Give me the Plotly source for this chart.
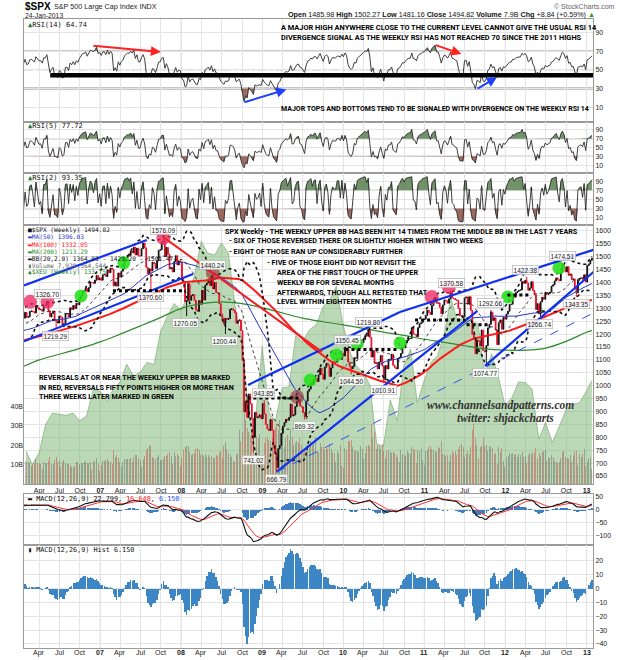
import numpy as np
import pandas as pd
import plotly.graph_objects as go

# ---------------- data (weekly closes, Fridays from 2004-01-02) ----------------
close_2004 = [1108,1122,1139,1141,1131, 1142,1146,1144,1145, 1156,1120,1110,1109, 1141,1139,1134,1141,1107,
              1099,1096,1094,1121, 1122,1137,1136,1134, 1126,1112,1102,1087,1102, 1064,1065,1099,1108,
              1114,1124,1129,1110, 1131,1122,1108,1095,1130, 1167,1185,1171,1182, 1191,1189,1194,1210,1212]
close_2005 = [1186,1184,1168,1171, 1203,1205,1201,1211, 1222,1200,1190,1181, 1172,1182,1142,1152,1156,
              1178,1154,1189,1198, 1197,1201,1216,1191, 1194,1212,1227,1234,1235, 1226,1231,1219,1206,
              1218,1241,1228,1215,1228, 1196,1186,1177,1199, 1220,1235,1248,1265, 1265,1259,1267,1256,1248]
close_2006 = [1285,1288,1262,1284, 1265,1267,1288,1290, 1287,1282,1307,1302,1295, 1296,1289,1311,1311,
              1325,1291,1267,1280, 1288,1253,1252,1245,1270, 1265,1236,1240,1279, 1280,1266,1302,1295,
              1311,1299,1320,1314,1336, 1349,1366,1368,1377, 1364,1380,1401,1400, 1397,1409,1427,1410,1418]
close_2007 = [1409,1430,1431,1423, 1449,1438,1456,1451, 1387,1402,1386,1437,1421, 1444,1453,1484,1495,
              1506,1505,1522,1515, 1537,1507,1533,1503,1503, 1531,1553,1534,1459, 1434,1453,1445,1479,1474,
              1454,1484,1525,1527, 1557,1561,1501,1536, 1510,1453,1458,1441,1481, 1504,1468,1484,1478]
close_2008 = [1411,1401,1325,1330, 1396,1331,1349,1353,1331, 1294,1288,1330,1316, 1370,1332,1390,1398,
              1413,1388,1426,1375,1400, 1361,1360,1318,1278, 1262,1239,1261,1257, 1260,1296,1298,1293,1283,
              1242,1252,1255,1213, 1099,899,940,877,968, 930,873,800,896, 876,879,887,872]
close_2009 = [931,890,850,832,826, 869,827,770,735, 683,756,768,816, 843,857,870,866, 877,929,883,887,919,
              940,946,921,918, 896,880,940,979,987, 1010,1005,1026,1029, 1016,1042,1068,1044,
              1025,1072,1087,1080,1036, 1069,1093,1091,1091, 1106,1106,1102,1126,1115]
close_2010 = [1145,1136,1092,1074, 1066,1075,1109,1105, 1139,1150,1160,1167, 1179,1194,1192,1217,1187,
              1111,1136,1087,1089, 1065,1092,1117,1076, 1023,1078,1065,1102,1102, 1122,1079,1071,1065,
              1105,1110,1125,1149, 1147,1166,1176,1183,1183, 1225,1200,1199,1190, 1225,1240,1244,1256,1258]
close_2011 = [1272,1293,1284,1276, 1311,1329,1343,1320, 1321,1304,1279,1313, 1332,1329,1320,1337,1364,
              1340,1338,1333,1331, 1300,1271,1271,1268, 1340,1344,1316,1345,1292, 1199,1179,1124,1177,
              1174,1154,1216,1136,1131, 1155,1224,1238,1285, 1253,1263,1216,1159, 1244,1255,1219,1265,1258]
close_2012 = [1278,1289,1315,1316, 1345,1343,1361,1366, 1370,1371,1404,1397,1408, 1398,1370,1379,1403,
              1369,1353,1295,1318, 1278,1325,1343,1335,1362, 1354,1357,1363,1386, 1391,1406,1418,1411,1407,
              1438,1466,1460,1441, 1461,1428,1433,1412, 1414,1380,1360,1409,1416, 1418,1413,1430,1402]
close_2013 = [1466,1472,1486,1494.82]

# weekly volume in billions, from 2006-01-06
vol_2006 = [9.5,10.2,11.8,12.0, 11.5,11.2,10.9,9.3, 10.5,11.0,12.9,10.8,10.9, 10.4,8.0,11.6,11.0,
            10.7,11.8,13.8,10.2, 10.3,12.4,14.0,11.3,12.0, 8.9,11.2,12.5,11.0, 10.6,10.2,10.0,8.8,
            9.0,9.4,11.4,11.5,10.5, 10.8,10.9,11.5,11.8, 11.0,10.8,11.6,7.5, 12.0,11.4,13.5,10.4,6.5]
vol_2007 = [9.8,12.0,12.1,12.3, 12.8,12.0,11.6,10.4, 17.5,13.8,15.2,13.2,11.4, 8.8,11.3,12.8,12.9,
            13.0,12.9,13.3,11.5, 13.9,14.8,15.0,13.7,12.5, 9.0,13.0,14.5,17.8, 18.5,20.1,19.8,13.9,13.4,
            12.8,14.2,15.1,12.3, 12.4,13.1,14.7,14.6, 15.5,16.7,14.3,10.2,16.4, 14.7,15.3,14.6,9.2]
vol_2008 = [13.5,17.4,19.2,19.8, 19.5,16.5,15.0,15.4,16.1, 18.1,18.5,17.6,14.8, 15.6,14.6,15.5,14.1,
            14.8,14.0,14.6,13.6,13.2, 15.2,14.6,16.0,17.2, 13.5,19.8,21.5,18.0, 16.0,15.2,13.8,12.1,11.4,
            15.0,16.2,28.0,22.0, 27.0,38.5,33.0,29.0,27.0, 25.0,27.0,31.0,14.5, 25.0,24.0,26.0,11.0]
vol_2009 = [12.0,21.0,24.0,24.5,23.0, 22.5,24.0,26.5,29.0, 31.0,28.0,33.0,25.0, 27.0,19.0,24.0,25.5,
            23.0,28.0,24.5,20.0,21.0, 22.5,21.0,24.0,20.0, 16.0,17.0,19.5,20.0,19.5, 22.0,20.0,20.5,24.5,
            17.0,16.5,21.0,19.0, 19.0,17.5,18.5,18.0,21.0, 18.0,16.5,16.0,11.5, 17.0,16.0,20.0,9.5,8.5]
vol_2010 = [18.5,17.5,22.0,22.5, 23.0,19.0,17.0,17.5, 17.0,16.5,19.5,18.0, 13.0,16.0,19.5,20.0,19.5,
            31.0,24.0,27.0,18.0, 20.0,19.5,18.0,20.5, 17.0,13.5,17.0,17.5,16.5, 16.0,16.5,16.0,15.0,
            14.0,11.5,17.5,15.5, 15.0,14.5,17.0,16.0,15.5, 19.0,18.0,17.5,11.0, 17.5,17.0,18.5,12.5,10.0]
vol_2011 = [17.0,17.5,19.0,19.5, 18.0,17.5,17.0,16.5, 19.0,18.5,22.0,15.5, 15.5,14.5,15.0,12.0,15.0,
            17.0,16.0,17.0,15.0, 18.0,19.5,20.5,19.0, 14.0,15.5,17.0,15.5,19.0, 28.0,31.0,24.0,20.0,
            13.5,19.0,19.5,24.0,19.5, 20.0,17.0,19.5,19.0, 18.5,15.5,16.0,10.5, 19.0,16.5,18.5,12.0,9.0]
vol_2012 = [14.0,14.5,16.0,15.5, 16.0,15.0,15.5,14.0, 15.5,15.0,16.5,14.0,14.5, 11.0,15.0,16.0,15.5,
            16.5,16.0,18.5,13.5, 16.0,14.5,16.5,17.0,17.5, 12.0,13.5,13.5,15.0, 14.0,12.0,11.5,11.0,11.5,
            13.5,16.5,17.0,14.0, 13.5,13.0,15.0,11.5, 14.5,16.5,17.0,10.0,15.5, 14.0,15.5,18.0,9.5]
vol_2013 = [11.5,13.0,14.0,7.9]

# $XEU monthly (month end), Jan 2006 .. Dec 2012, then last value
xeu_values = [121.5,119.2,121.2,126.2,128.1,127.9,127.7,128.1,126.8,127.6,132.2,131.9,
              130.2,132.2,133.5,136.6,134.5,135.2,136.9,136.5,142.3,144.9,147.1,145.9,
              148.4,151.9,157.9,155.8,155.5,157.6,155.9,146.6,140.8,127.3,126.8,139.7,
              128.1,126.7,132.5,132.6,141.5,140.4,142.5,143.4,146.4,147.7,150.1,143.3,
              138.6,136.3,135.1,133.0,122.8,122.3,130.4,126.8,136.3,139.2,129.9,133.8,
              136.9,138.0,141.7,148.1,143.9,145.0,143.9,143.6,134.5,138.4,134.4,129.4,
              130.8,133.5,133.4,132.3,123.6,126.5,123.0,125.8,128.6,129.6,129.9,131.9]
xeu_last = 133.75

# MA(200), quarterly
ma200_dates = ['2006-01-20','2006-04-01','2006-07-01','2006-10-01','2007-01-01','2007-04-01','2007-07-01',
               '2007-10-01','2008-01-01','2008-04-01','2008-07-01','2008-10-01','2009-01-01','2009-04-01',
               '2009-07-01','2009-10-01','2010-01-01','2010-04-01','2010-07-01','2010-10-01','2011-01-01',
               '2011-04-01','2011-07-01','2011-10-01','2012-01-01','2012-04-01','2012-07-01','2012-10-01',
               '2013-01-01','2013-01-25']
ma200_values = [1075,1100,1122,1145,1170,1200,1232,1265,1300,1318,1325,1318,1302,1282,1262,1248,1236,
                1222,1208,1195,1180,1168,1155,1143,1138,1138,1146,1172,1207,1213.29]

# labelled highs / lows
lab_dates = ['2006-05-08','2006-06-14','2007-08-16','2007-10-11','2008-05-19','2008-01-22','2008-07-15',
             '2009-01-06','2008-11-21','2009-03-06','2009-07-08','2010-01-19','2010-02-05','2010-04-26',
             '2010-07-01','2011-05-02','2011-10-04','2011-10-27','2012-04-02','2012-06-04','2012-09-14',
             '2012-11-16']
lab_values = [1326.70,1219.29,1370.60,1576.09,1440.24,1270.05,1200.44,943.85,741.02,666.79,869.32,
              1150.45,1044.50,1219.80,1010.91,1370.58,1074.77,1292.66,1422.38,1266.74,1474.51,1343.35]
lab_kind = ['H','L','L','H','H','L','L','H','L','L','L','H','L','H','L','H','L','H','H','L','H','L']

# reversal circles (red) and continuation circles (green)
red_dates = ['2006-02-19','2006-05-08','2007-10-12','2011-02-03','2011-04-22']
red_values = [1325,1325,1573,1344,1383]
brown_dates = ['2008-05-22','2009-06-06']
brown_values = [1437,956]
green_dates = ['2006-10-06','2007-04-17','2009-08-04','2009-12-01','2010-03-04','2010-09-13',
               '2012-01-12','2012-08-29']
green_values = [1348,1477,1022,1119,1162,1166,1344,1457]

# hand drawn lines: (date0, price0, date1, price1)
blue_lines = [('2006-01-22',1389,'2007-07-30',1565), ('2006-01-22',1172,'2008-02-23',1433),
              ('2008-10-28',1003,'2010-09-13',1286), ('2010-09-13',1286,'2013-02-20',1532),
              ('2009-03-06',666,'2011-08-28',1290), ('2011-10-01',1077,'2013-02-20',1455)]
blue_dash_lines = [('2009-03-06',666,'2013-02-20',1290)]
red_lines = [('2007-10-12',1576,'2009-09-26',1131)]
level_lines = [('2007-02-27','2008-01-20',1368), ('2008-10-25','2009-06-15',952),
               ('2010-01-10','2010-09-05',1140), ('2010-11-20','2011-07-05',1255),
               ('2011-07-10','2011-10-15',1236), ('2012-01-10','2012-04-15',1352)]

# RSI14 divergence arrows: (tail date, tail value, head date, head value, colour)
rsi_arrows = [('2006-11-24',76,'2007-10-01',69,'#ff2020'), ('2008-10-05',15,'2009-04-19',29,'#1f3fff'),
              ('2011-02-14',77,'2011-06-17',67,'#ff2020'), ('2011-08-22',29,'2011-11-24',42,'#1f3fff')]
rsi_band = ('2006-05-20','2013-02-10',44.3)

# ---------------- computed indicators ----------------
closes = (close_2004 + close_2005 + close_2006 + close_2007 + close_2008 + close_2009 + close_2010 +
          close_2011 + close_2012 + close_2013)
dates = pd.date_range('2004-01-02', periods=len(closes), freq='W-FRI')
s = pd.Series(np.array(closes, dtype=float), index=dates)

def rsi(series, n):
    d = series.diff()
    up = d.clip(lower=0)
    dn = (-d).clip(lower=0)
    au = up.ewm(alpha=1.0 / n, adjust=False).mean()
    ad = dn.ewm(alpha=1.0 / n, adjust=False).mean()
    return 100 - 100 / (1 + au / ad.replace(0, 1e-9))

rsi14 = rsi(s, 14)
rsi5 = rsi(s, 5)
rsi2 = rsi(s, 2)
ma50 = s.rolling(50).mean()
ma100 = s.rolling(100).mean()
bb_mid = s.rolling(20).mean()
bb_sd = s.rolling(20).std(ddof=0)
bb_up = bb_mid + 2 * bb_sd
bb_lo = bb_mid - 2 * bb_sd
macd = s.ewm(span=12, adjust=False).mean() - s.ewm(span=26, adjust=False).mean()
signal = macd.ewm(span=9, adjust=False).mean()
hist = macd - signal
opens = s.shift(1)

vis = dates >= pd.Timestamp('2006-01-06')
xd = dates[vis]
n = len(xd)
volume = vol_2006 + vol_2007 + vol_2008 + vol_2009 + vol_2010 + vol_2011 + vol_2012 + vol_2013
c_vis = s[vis].values
o_vis = opens[vis].values
vol_colors = ['rgba(205,60,60,0.45)' if c < o else 'rgba(80,80,80,0.38)' for c, o in zip(c_vis, o_vis)]

# candle extremes: bodies, extended by the labelled weekly highs / lows
hi = np.maximum(o_vis, c_vis)
lo = np.minimum(o_vis, c_vis)
for d, v in zip(lab_dates, lab_values):
    k = int(np.searchsorted(xd.values, np.datetime64(d)))
    if 0 <= k < n:
        hi[k] = max(hi[k], v)
        lo[k] = min(lo[k], v)

xeu_dates = list(pd.date_range('2006-01-01', periods=len(xeu_values), freq='MS') + pd.offsets.MonthEnd(0))
xeu_dates.append(pd.Timestamp('2013-01-25'))
xeu_all = xeu_values + [xeu_last]

# ---------------- layout helpers ----------------
W, H = 621, 660
L, R, T, B = 24, 28, 19, 12
PW, PH = W - L - R, H - T - B

def px(p):
    return (p - L) / PW

def py(p):
    return (H - B - p) / PH

XR = ['2006-01-22', '2013-01-30']
GRID = '#e4e4e4'
FRAME = '#9a9a9a'
FONT = 'Liberation Sans, Arial, sans-serif'
MONO = 'DejaVu Sans Mono, monospace'
NARROW = 'Liberation Sans Narrow, Roboto, sans-serif'
GREENF = 'rgba(88,128,80,0.85)'
BROWNF = 'rgba(140,80,70,0.85)'

qt = pd.date_range('2006-04-01', '2013-01-01', freq='QS')
qtext = ['<b>%s</b>' % d.strftime('%y') if d.month == 1 else d.strftime('%b') for d in qt]
years = [d for d in qt if d.month == 1]

dom = {
    'rsi14': [py(122), 1.0],
    'rsi5': [py(173), py(122)],
    'rsi2': [py(225), py(173)],
    'price': [py(484), py(225)],
    'macd': [py(545), py(494)],
    'hist': [0.0, py(545)],
}

fig = go.Figure()

# ---------- RSI panels ----------
def add_rsi(r, xa, ya):
    rv = r[vis].values
    fig.add_trace(go.Scatter(x=xd, y=[70] * n, mode='lines', line=dict(width=0), xaxis=xa, yaxis=ya,
                             hoverinfo='skip', showlegend=False))
    fig.add_trace(go.Scatter(x=xd, y=np.maximum(rv, 70), mode='lines', line=dict(width=0), fill='tonexty',
                             fillcolor=GREENF, xaxis=xa, yaxis=ya, hoverinfo='skip', showlegend=False))
    fig.add_trace(go.Scatter(x=xd, y=[30] * n, mode='lines', line=dict(width=0), xaxis=xa, yaxis=ya,
                             hoverinfo='skip', showlegend=False))
    fig.add_trace(go.Scatter(x=xd, y=np.minimum(rv, 30), mode='lines', line=dict(width=0), fill='tonexty',
                             fillcolor=BROWNF, xaxis=xa, yaxis=ya, hoverinfo='skip', showlegend=False))
    fig.add_trace(go.Scatter(x=xd, y=rv, mode='lines', line=dict(color='#2a2a2a', width=0.9),
                             xaxis=xa, yaxis=ya, showlegend=False))

add_rsi(rsi14, 'x', 'y')
add_rsi(rsi5, 'x2', 'y2')
add_rsi(rsi2, 'x3', 'y3')

# ---------- price panel ----------
fig.add_trace(go.Scatter(x=xeu_dates, y=xeu_all, mode='lines', line=dict(color='rgba(90,150,80,0.8)', width=0.6),
                         fill='tozeroy', fillcolor='rgba(120,180,110,0.5)', xaxis='x4', yaxis='y4',
                         showlegend=False))
fig.add_trace(go.Bar(x=xd, y=volume, marker=dict(color=vol_colors, line=dict(width=0)),
                     width=4.5 * 86400000, xaxis='x4', yaxis='y7', showlegend=False))
fig.add_trace(go.Scatter(x=ma200_dates, y=ma200_values, mode='lines', line=dict(color='#2f8a2f', width=1.2, shape='spline'),
                         xaxis='x4', yaxis='y8', showlegend=False))
fig.add_trace(go.Scatter(x=xd, y=ma100[vis].values, mode='lines', line=dict(color='#ff1a1a', width=2),
                         xaxis='x4', yaxis='y8', showlegend=False))
fig.add_trace(go.Scatter(x=xd, y=ma50[vis].values, mode='lines', line=dict(color='#2a35c0', width=1),
                         xaxis='x4', yaxis='y8', showlegend=False))
for band, w in ((bb_up, 1.6), (bb_lo, 1.6), (bb_mid, 0.8)):
    fig.add_trace(go.Scatter(x=xd, y=band[vis].values, mode='lines', line=dict(color='#111', width=w, dash='dot'),
                             xaxis='x4', yaxis='y8', showlegend=False))
fig.add_trace(go.Candlestick(x=xd, open=o_vis, high=hi, low=lo, close=c_vis,
                             increasing=dict(line=dict(color='#111', width=1), fillcolor='#111'),
                             decreasing=dict(line=dict(color='#e8102a', width=1), fillcolor='#e8102a'),
                             whiskerwidth=0, xaxis='x4', yaxis='y8', showlegend=False))

# circles
fig.add_trace(go.Scatter(x=red_dates, y=red_values, mode='markers',
                         marker=dict(size=14, color='rgba(238,40,100,0.78)', line=dict(width=0)),
                         xaxis='x4', yaxis='y8', showlegend=False))
fig.add_trace(go.Scatter(x=brown_dates, y=brown_values, mode='markers',
                         marker=dict(size=14, color='rgba(150,40,50,0.6)', line=dict(width=0)),
                         xaxis='x4', yaxis='y8', showlegend=False))
fig.add_trace(go.Scatter(x=green_dates, y=green_values, mode='markers',
                         marker=dict(size=13, color='rgba(40,225,30,0.9)', line=dict(width=0)),
                         xaxis='x4', yaxis='y8', showlegend=False))

# ---------- MACD ----------
fig.add_trace(go.Bar(x=xd, y=hist[vis].values, marker=dict(color='#3d7fc1', line=dict(width=0)),
                     width=6.5 * 86400000, xaxis='x5', yaxis='y5', showlegend=False))
fig.add_trace(go.Scatter(x=xd, y=signal[vis].values, mode='lines', line=dict(color='#ff3030', width=1),
                         xaxis='x5', yaxis='y5', showlegend=False))
fig.add_trace(go.Scatter(x=xd, y=macd[vis].values, mode='lines', line=dict(color='#111', width=1.1),
                         xaxis='x5', yaxis='y5', showlegend=False))
fig.add_trace(go.Bar(x=xd, y=hist[vis].values, marker=dict(color='#3d86c6', line=dict(width=0)),
                     width=6.5 * 86400000, xaxis='x6', yaxis='y6', showlegend=False))

# ---------- axes ----------
def xax(anchor, labels):
    return dict(type='date', range=XR, domain=[0, 1], anchor=anchor, tickmode='array', tickvals=list(qt),
                ticktext=qtext, showticklabels=labels, ticks='', showgrid=True, gridcolor=GRID, gridwidth=1,
                showline=True, mirror=True, linecolor=FRAME, linewidth=1, zeroline=False, automargin=False,
                tickfont=dict(size=7, color='#222', family=FONT), rangeslider=dict(visible=False))

def yax(domain, rng, tickvals, anchor='x'):
    return dict(domain=domain, range=rng, anchor=anchor, side='right', tickmode='array', tickvals=tickvals,
                showgrid=True, gridcolor=GRID, showline=True, mirror=True, linecolor=FRAME, linewidth=1,
                zeroline=False, ticks='', automargin=False, tickfont=dict(size=7, color='#222', family=FONT))

rsi_ticks = [10, 30, 50, 70, 90]
fig.update_layout(
    width=W, height=H, margin=dict(l=L, r=R, t=T, b=B, autoexpand=False), paper_bgcolor='white',
    plot_bgcolor='white', showlegend=False, hovermode=False,
    xaxis=xax('y', False), xaxis2=xax('y2', False), xaxis3=xax('y3', False),
    xaxis4=xax('y4', True), xaxis5=xax('y5', False), xaxis6=xax('y6', False),
    yaxis=yax(dom['rsi14'], [-5.7, 104.3], rsi_ticks, anchor='x'),
    yaxis2=yax(dom['rsi5'], [-8, 108], rsi_ticks, anchor='x2'),
    yaxis3=yax(dom['rsi2'], [-6, 108], rsi_ticks, anchor='x3'),
    yaxis4=dict(domain=dom['price'], range=[115.8, 160.7], anchor='x4', visible=False, automargin=False),
    yaxis7=dict(overlaying='y4', anchor='x4', side='left', range=[0, 134], tickmode='array',
                tickvals=[10, 20, 30, 40], ticktext=['10B', '20B', '30B', '40B'], showgrid=False,
                showline=False, zeroline=False, ticks='', automargin=False,
                tickfont=dict(size=7, color='#222', family=FONT)),
    yaxis8=dict(overlaying='y4', anchor='x4', side='right', range=[619, 1623], tickmode='array',
                tickvals=list(range(650, 1601, 50)), showgrid=True, gridcolor=GRID, showline=True, mirror=True,
                linecolor=FRAME, linewidth=1, zeroline=False, ticks='', automargin=False,
                tickfont=dict(size=7, color='#222', family=FONT)),
    yaxis5=yax(dom['macd'], [-139, 62], [-100, -50, 0, 50], anchor='x5'),
    yaxis6=yax(dom['hist'], [-42.9, 31.4], [-40, -30, -20, -10, 0, 10, 20], anchor='x6'),
    bargap=0,
)

shapes = []
for xa, ya in (('x', 'y'), ('x2', 'y2'), ('x3', 'y3'), ('x4', 'y4'), ('x5', 'y5'), ('x6', 'y6')):
    for yv in years:
        shapes.append(dict(type='line', xref=xa, yref=ya + ' domain', x0=yv, x1=yv, y0=0, y1=1,
                           line=dict(color='#c4c4c4', width=1), layer='below'))
for ya in ('y', 'y2', 'y3'):
    for lvl, col, wd, ds in ((70, '#9a9a9a', 1.2, 'solid'), (50, '#b0b0b0', 1, 'dashdot'),
                             (30, '#9a9a9a', 1.2, 'solid')):
        if ya == 'y' and lvl == 30:
            col, wd = '#c6c6c6', 3
        shapes.append(dict(type='line', xref=ya.replace('y', 'x') + ' domain', yref=ya, x0=0, x1=1,
                           y0=lvl, y1=lvl, line=dict(color=col, width=wd, dash=ds), layer='below'))
shapes.append(dict(type='line', xref='x', yref='y', x0=rsi_band[0], x1=rsi_band[1], y0=rsi_band[2],
                   y1=rsi_band[2], line=dict(color='#000', width=4.5)))
for d0, p0, d1, p1 in blue_lines:
    shapes.append(dict(type='line', xref='x4', yref='y8', x0=d0, y0=p0, x1=d1, y1=p1,
                       line=dict(color='#1030f0', width=2.2)))
for d0, p0, d1, p1 in blue_dash_lines:
    shapes.append(dict(type='line', xref='x4', yref='y8', x0=d0, y0=p0, x1=d1, y1=p1,
                       line=dict(color='#3050f0', width=1, dash='dash')))
for d0, p0, d1, p1 in red_lines:
    shapes.append(dict(type='line', xref='x4', yref='y8', x0=d0, y0=p0, x1=d1, y1=p1,
                       line=dict(color='#f02020', width=2)))
for d0, d1, lvl in level_lines:
    shapes.append(dict(type='line', xref='x4', yref='y8', x0=d0, y0=lvl, x1=d1, y1=lvl,
                       line=dict(color='#000', width=3, dash='dot')))
fig.update_layout(shapes=shapes)

ann = []

def text(pxx, pyy, t, size=7.5, color='#111', family=FONT, anchor='left'):
    ann.append(dict(x=px(pxx), y=py(pyy), xref='paper', yref='paper', text=t, showarrow=False,
                    xanchor=anchor, yanchor='middle', font=dict(size=size, color=color, family=family)))

# bottom date axis labels (placed from the quarter tick list)
for d, t in zip(qt, qtext):
    ann.append(dict(x=d, y=py(653), xref='x6', yref='paper', text=t, showarrow=False, xanchor='center',
                    yanchor='middle', font=dict(size=7, color='#222', family=FONT)))

# header
text(23, 6, '<b>$SPX</b>', size=10, color='#000')
text(52, 6.5, 'S&P 500 Large Cap Index INDX', size=7.2, color='#222')
text(23, 15.5, '24-Jan-2013', size=6.8, color='#222')
text(617, 6, '© StockCharts.com', size=7, color='#666', anchor='right')
text(597, 15, '<b>Open</b> 1485.98 <b>High</b> 1502.27 <b>Low</b> 1481.16 <b>Close</b> 1494.82 '
     '<b>Volume</b> 7.9B <b>Chg</b> +8.84 (+0.59%) <span style="color:#2a9a2a">▲</span>',
     size=7.2, color='#111', anchor='right')

# panel labels
text(26, 25.5, '<span style="color:#2a7a2a">▲</span>RSI(14) 64.74', size=7, family=MONO)
text(26, 126, '<span style="color:#2a7a2a">▲</span>RSI(5) 77.72', size=7, family=MONO)
text(26, 178, '<span style="color:#2a7a2a">▲</span>RSI(2) 93.35', size=7, family=MONO)
legend_rows = [('■$SPX (Weekly) 1494.82', '#111'), ('▬MA(50) 1396.03', '#2a35c0'),
               ('▬MA(100) 1332.05', '#ff1a1a'), ('▬MA(200) 1213.29', '#2f8a2f'),
               ('▬BB(20,2.0) 1364.93 - 1429.20 - 1501.47', '#111'), ('▮Volume 7,929,364,544', '#666'),
               ('▲$XEU (Weekly) 133.75', '#2f8a2f')]
for i, (t, c) in enumerate(legend_rows):
    text(26, 230 + i * 7, t, size=6.2, color=c, family=MONO)
text(26, 499, '<b>▬</b> MACD(12,26,9) 22.799, <span style="color:#ff2020">16.648</span>, '
     '<span style="color:#2050ff">6.150</span>', size=6.8, family=MONO)
text(26, 549.5, '▮ MACD(12,26,9) Hist 6.150', size=6.8, family=MONO)

# commentary
NB = dict(size=7.2, color='#000', family=NARROW)
text(279, 27.5, '<b>A MAJOR HIGH ANYWHERE CLOSE TO THE CURRENT LEVEL CANNOT GIVE THE USUAL RSI 14</b>',
     size=7.4, color='#000', family=NARROW)
text(279, 38, '<b>DIVERGENCE SIGNAL AS THE WEEKLY RSI HAS NOT REACHED 70 SINCE THE 2011 HIGHS</b>',
     size=7.4, color='#000', family=NARROW)
text(279, 109, '<b>MAJOR TOPS AND BOTTOMS TEND TO BE SIGNALED WITH DIVERGENCE ON THE WEEKLY RSI 14</b>',
     size=7.0, color='#000', family=NARROW)
text(223, 231, '<b>SPX Weekly - THE WEEKLY UPPER BB HAS BEEN HIT 14 TIMES FROM THE MIDDLE BB IN THE LAST 7 YEARS</b>', **NB)
text(227, 241, '<b>- SIX OF THOSE REVERSED THERE OR SLIGHTLY HIGHER WITHIN TWO WEEKS</b>', **NB)
text(227, 251, '<b>- EIGHT OF THOSE RAN UP CONSIDERABLY FURTHER</b>', **NB)
text(265, 262, '<b>- FIVE OF THOSE EIGHT DID NOT REVISIT THE</b>', **NB)
text(275, 272, '<b>AREA OF THE FIRST TOUCH OF THE UPPER</b>', **NB)
text(275, 282, '<b>WEEKLY BB FOR SEVERAL MONTHS</b>', **NB)
text(275, 292, '<b>AFTERWARDS, THOUGH ALL RETESTED THAT</b>', **NB)
text(275, 302, '<b>LEVEL WITHIN EIGHTEEN MONTHS</b>', **NB)
text(37, 377, '<b>REVERSALS AT OR NEAR THE WEEKLY UPPER BB MARKED</b>', **NB)
text(37, 387, '<b>IN RED, REVERSALS FIFTY POINTS HIGHER OR MORE THAN</b>', **NB)
text(37, 397, '<b>THREE WEEKS LATER MARKED IN GREEN</b>', **NB)
text(425, 405.5, '<b><i>www.channelsandpatterns.com</i></b>', size=11.5, color='#333',
     family='Liberation Serif, DejaVu Serif, serif')
text(455, 418.5, '<b><i>twitter: shjackcharts</i></b>', size=11.5, color='#333',
     family='Liberation Serif, DejaVu Serif, serif')

# price labels
for d, v, k in zip(lab_dates, lab_values, lab_kind):
    ann.append(dict(x=d, y=v, xref='x4', yref='y8', text='%.2f' % v, showarrow=False,
                    yshift=7 if k == 'H' else -7, font=dict(size=6.5, color='#222', family=FONT),
                    bgcolor='rgba(255,255,255,0.85)', bordercolor='#aaa', borderwidth=0.6, borderpad=1))

# RSI arrows
for d0, v0, d1, v1, c in rsi_arrows:
    ann.append(dict(x=d1, y=v1, ax=d0, ay=v0, xref='x', yref='y', axref='x', ayref='y', text='',
                    showarrow=True, arrowhead=2, arrowsize=1, arrowwidth=2, arrowcolor=c))

fig.update_layout(annotations=ann)
fig.write_html('out.html', config={'displayModeBar': False, 'staticPlot': True},
               post_script="document.body.style.margin='0';document.body.style.padding='0';"
                           "document.documentElement.style.margin='0';")
